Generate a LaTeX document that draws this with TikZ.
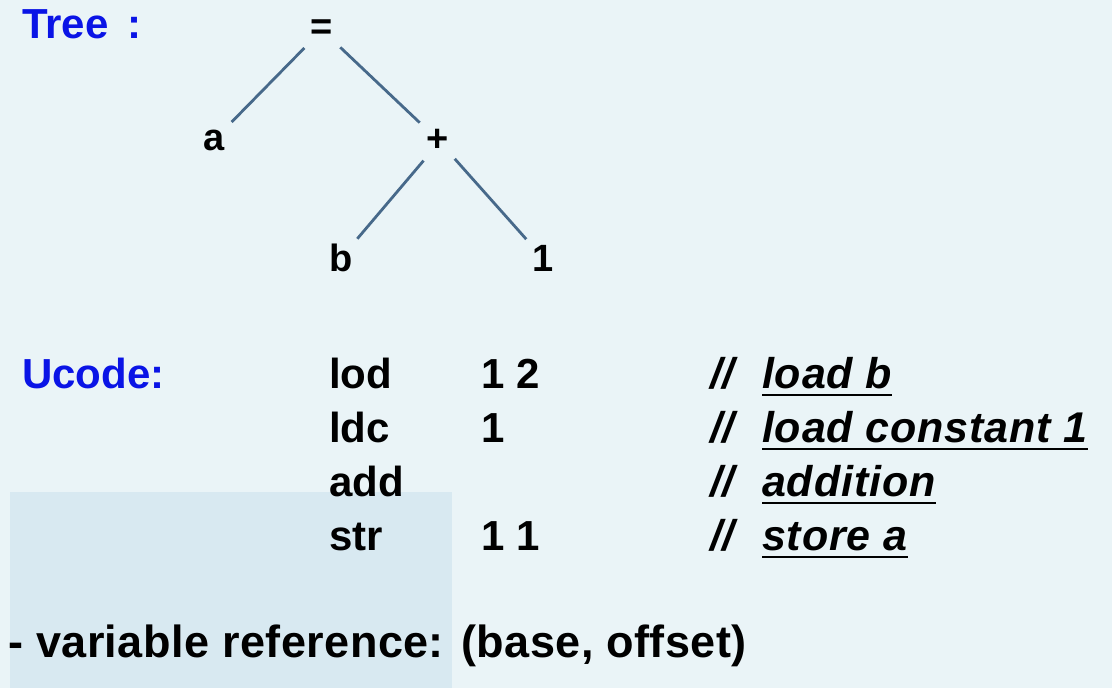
\documentclass[tikz,border=0pt]{standalone}
\usepackage{fontspec}
\setmainfont{Liberation Sans}
\usepackage{xcolor}
\usepackage{tikz}

\definecolor{paper}{HTML}{EAF4F7}
\definecolor{stamp}{HTML}{D8E9F1}
\definecolor{edgeblue}{HTML}{47698A}
\definecolor{titleblue}{HTML}{0A14E6}

\begin{document}
\begin{tikzpicture}[x=1pt, y=-1pt,
    title/.style={anchor=base west, inner sep=0, text=titleblue, font=\fontsize{42}{46}\selectfont\bfseries},
    leaf/.style={circle, minimum size=50pt, inner sep=0, font=\fontsize{38}{42}\selectfont\bfseries},
    edge/.style={draw=edgeblue, line width=2.8pt},
    code/.style={anchor=base west, inner sep=0, font=\fontsize{42}{46}\selectfont\bfseries},
    cmt/.style={anchor=base west, inner sep=0, font=\fontsize{43}{46}\selectfont\bfseries\itshape\addfontfeatures{LetterSpace=2}},
    uline/.style={line width=2pt}]

    % background
    \fill[paper] (0,0) rectangle (1112,688);
    \fill[stamp] (10,492) rectangle (452,688);
    \useasboundingbox (0,0) rectangle (1112,688);

    % tree
    \node[title] (treelbl) at (22,38) {Tree\hspace{0.45em}:};
    \node[leaf] (eq) at (322,30) {=};
    \node[leaf] (a) at (214,140) {a};
    \node[leaf] (plus) at (438,140) {+};
    \node[leaf] (b) at (341,258) {b};
    \node[leaf] (one) at (543,258) {1};

    \draw[edge] (eq) -- (a);
    \draw[edge] (eq) -- (plus);
    \draw[edge] (plus.235) -- (b);
    \draw[edge] (plus) -- (one);

    % ucode
    \node[title] (ucodelbl) at (22,388) {Ucode:};

    \node[code] (op1) at (329,388) {lod};
    \node[code] (op2) at (329,442) {ldc};
    \node[code] (op3) at (329,496) {add};
    \node[code] (op4) at (329,550) {str};

    \node[code] (arg1) at (481,388) {1 2};
    \node[code] (arg2) at (481,442) {1};
    \node[code] (arg4) at (481,550) {1 1};

    \node[cmt] (sl1) at (710,388) {//};
    \node[cmt] (sl2) at (710,442) {//};
    \node[cmt] (sl3) at (710,496) {//};
    \node[cmt] (sl4) at (710,550) {//};

    \node[cmt] (c1) at (762,388) {load b};
    \node[cmt] (c2) at (762,442) {load constant 1};
    \node[cmt] (c3) at (762,496) {addition};
    \node[cmt] (c4) at (762,550) {store a};

    \foreach \i in {1,...,4}
        \draw[uline] ([yshift=-7pt]c\i.base west) -- ([yshift=-7pt]c\i.base east);

    % note
    \node[code, font=\fontsize{45}{48}\selectfont\bfseries\addfontfeatures{LetterSpace=1}] (note) at (8,657) {- variable reference: (base, offset)};

\end{tikzpicture}
\end{document}
